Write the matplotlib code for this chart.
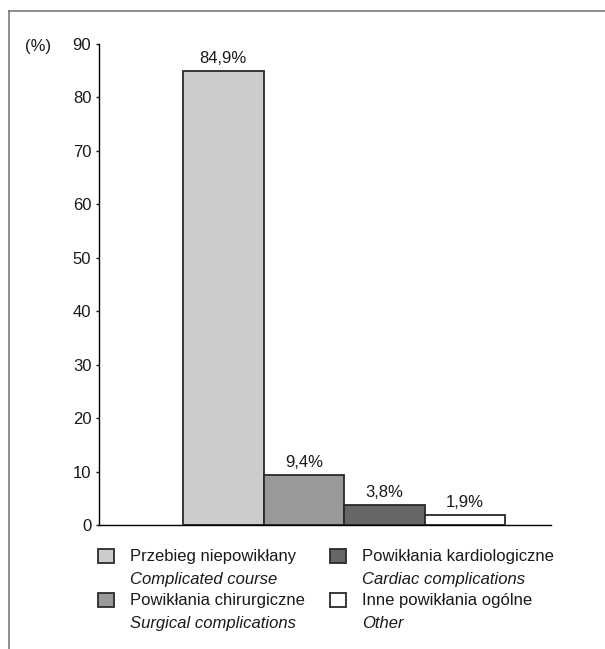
import matplotlib
matplotlib.use("Agg")
import matplotlib.pyplot as plt
from matplotlib.patches import Rectangle
from matplotlib.lines import Line2D

# course of the post-operative period, share of patients
names_pl = ["Przebieg niepowikłany", "Powikłania chirurgiczne",
            "Powikłania kardiologiczne", "Inne powikłania ogólne"]
names_en = ["Complicated course", "Surgical complications",
            "Cardiac complications", "Other"]
values = [84.9, 9.4, 3.8, 1.9]
value_labels = ["84,9%", "9,4%", "3,8%", "1,9%"]
bar_colors = ["#cccccc", "#999999", "#666666", "#ffffff"]
yticks = [0, 10, 20, 30, 40, 50, 60, 70, 80, 90]

plt.rcParams["font.family"] = ["Liberation Sans", "DejaVu Sans"]
plt.rcParams["font.size"] = 12

W, H = 605, 649
fig = plt.figure(figsize=(W / 100, H / 100), dpi=100)


def fx(px):
    return px / W


def fy(py):
    return 1 - py / H


ax = fig.add_axes([fx(99), fy(525), fx(551) - fx(99), fy(44) - fy(525)])

xs = [1, 2, 3, 4]
bars = ax.bar(xs, values, width=1.0, color=bar_colors, edgecolor="#2a2a2a", linewidth=1.3)
for b, lab in zip(bars, value_labels):
    ax.annotate(lab, (b.get_x() + b.get_width() / 2, b.get_height()),
                xytext=(0, 3.5), textcoords="offset points",
                ha="center", va="bottom", color="#1a1a1a")

ax.set_xlim(-0.545, 5.07)
ax.set_ylim(0, 90)
ax.set_yticks(yticks)
ax.set_xticks([])
ax.spines["top"].set_visible(False)
ax.spines["right"].set_visible(False)
for s in ("left", "bottom"):
    ax.spines[s].set_linewidth(1.0)
ax.tick_params(axis="y", length=2.5, width=1.0, pad=3, colors="#1a1a1a")

fig.text(fx(25), fy(46), "(%)", ha="left", va="center", color="#1a1a1a")

# legend, two columns, Polish name over English name in italics
col_x = [98, 330]
row_y = [556, 600]
for i in range(4):
    c, r = divmod(i, 2)
    x0, yc = col_x[c], row_y[r]
    fig.add_artist(Rectangle((fx(x0), fy(yc + 7)), fx(16), fy(0) - fy(14),
                             transform=fig.transFigure, facecolor=bar_colors[i],
                             edgecolor="#2a2a2a", linewidth=1.3))
    fig.text(fx(x0 + 32), fy(yc), names_pl[i], ha="left", va="center", color="#1a1a1a")
    fig.text(fx(x0 + 32), fy(yc + 23.5), names_en[i], ha="left", va="center",
             style="italic", color="#1a1a1a")

# outer frame, left and top edges
fig.add_artist(Line2D([fx(9), fx(9)], [0, fy(11)], transform=fig.transFigure,
                      color="#707070", linewidth=1.1))
fig.add_artist(Line2D([fx(9), 1], [fy(11), fy(11)], transform=fig.transFigure,
                      color="#707070", linewidth=1.1))

fig.savefig("out.png", dpi=100)
